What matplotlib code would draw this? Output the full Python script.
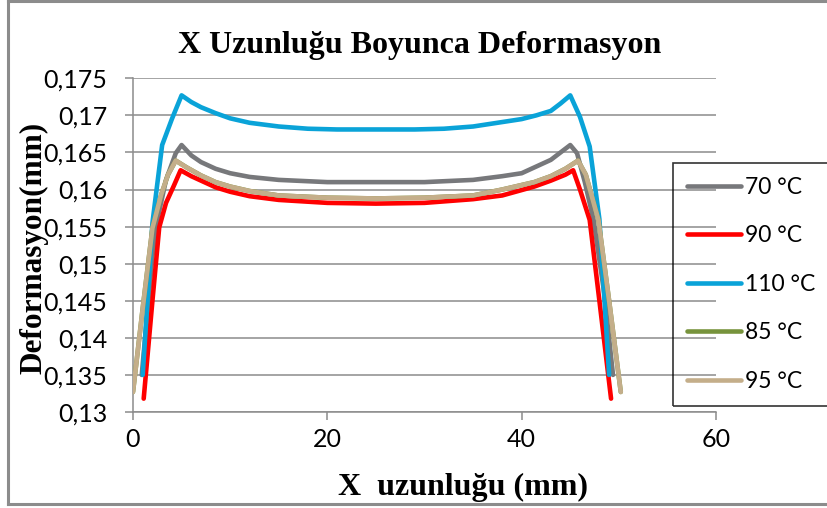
import matplotlib
matplotlib.use("Agg")
import matplotlib.pyplot as plt
from matplotlib.lines import Line2D
from matplotlib.ticker import FuncFormatter

# Deformation (mm) along the X length (mm) for each temperature
x_70 = [0.9, 2, 2.5, 3.4, 4.4, 5, 6, 7, 8.5, 10, 12, 15, 20, 25, 30, 35, 38, 40,
        41.5, 43, 44, 45, 45.7, 46.5, 47.4, 48.5, 49.4]
y_70 = [0.1350, 0.1510, 0.1559, 0.1613, 0.1649, 0.1660, 0.1646, 0.1637, 0.1628,
        0.1622, 0.1617, 0.1613, 0.1610, 0.1610, 0.1610, 0.1613, 0.1618, 0.1622,
        0.1631, 0.1640, 0.1650, 0.1660, 0.1649, 0.1610, 0.1559, 0.1460, 0.1350]

x_90 = [1.1, 2, 2.7, 3.4, 4.2, 4.9, 6, 7, 8.5, 10, 12, 15, 20, 25, 30, 35, 38,
        41.3, 43, 44.5, 45.3, 46, 47, 48, 49.2]
y_90 = [0.1318, 0.1450, 0.1549, 0.1582, 0.1605, 0.1626, 0.1618, 0.1612, 0.1603,
        0.1597, 0.1591, 0.1586, 0.1582, 0.1581, 0.1582, 0.1587, 0.1592, 0.1604,
        0.1612, 0.1620, 0.1626, 0.1600, 0.1559, 0.1450, 0.1318]

x_110 = [1, 2, 3, 4, 5, 6, 7, 8.5, 10, 12, 15, 18, 21, 25, 29, 32, 35, 38, 40,
         41.5, 43, 44, 45, 46, 47, 48, 49]
y_110 = [0.1350, 0.1555, 0.1660, 0.1695, 0.1727, 0.1718, 0.1711, 0.1703, 0.1696,
         0.1690, 0.1685, 0.1682, 0.1681, 0.1681, 0.1681, 0.1682, 0.1685, 0.1691,
         0.1695, 0.1700, 0.1706, 0.1716, 0.1727, 0.1698, 0.1658, 0.1560, 0.1350]

x_85 = [0, 1, 2, 2.9, 3.6, 4.4, 5.5, 7, 8.5, 10, 12, 15, 20, 25, 30, 35, 38,
        41.3, 43, 44.5, 45.8, 46.6, 47.9, 49, 50.2]
y_85 = [0.1327, 0.1440, 0.1548, 0.1593, 0.1620, 0.1639, 0.1630, 0.1619, 0.1610,
        0.1604, 0.1598, 0.1592, 0.1589, 0.1588, 0.1589, 0.1592, 0.1600, 0.1610,
        0.1618, 0.1628, 0.1639, 0.1620, 0.1559, 0.1450, 0.1327]

x_95 = [0, 1, 2, 2.9, 3.6, 4.4, 5.5, 7, 8.5, 10, 12, 15, 20, 25, 30, 35, 38,
        41.3, 43, 44.5, 45.8, 46.6, 47.9, 49, 50.2]
y_95 = [0.1327, 0.1440, 0.1548, 0.1593, 0.1620, 0.1639, 0.1630, 0.1619, 0.1610,
        0.1604, 0.1598, 0.1592, 0.1589, 0.1588, 0.1589, 0.1592, 0.1600, 0.1610,
        0.1618, 0.1628, 0.1639, 0.1620, 0.1559, 0.1450, 0.1327]

labels = ["70 °C", "90 °C", "110 °C", "85 °C", "95 °C"]
colors = ["#77787B", "#FF0000", "#0AA3D8", "#77933C", "#C4AE8A"]

x_ticks = [0, 20, 40, 60]
y_ticks = [0.13, 0.135, 0.14, 0.145, 0.15, 0.155, 0.16, 0.165, 0.17, 0.175]

plt.rcParams['font.family'] = ['Lato', 'DejaVu Sans']

fig = plt.figure(figsize=(8.28, 5.08), dpi=100)
ax = fig.add_axes([133 / 828, 1 - 412 / 508, (716 - 133) / 828, (412 - 78.3) / 508])

grid_c = "#8C8C8C"
series = [(x_70, y_70), (x_90, y_90), (x_110, y_110), (x_85, y_85), (x_95, y_95)]
for (xs, ys), lab, c in zip(series, labels, colors):
    ax.plot(xs, ys, color=c, lw=3.3, label=lab,
            solid_capstyle="round", solid_joinstyle="round", zorder=3)

ax.set_xlim(0, 60)
ax.set_ylim(0.13, 0.175)
ax.set_xticks(x_ticks)
ax.set_yticks(y_ticks)
ax.yaxis.set_major_formatter(FuncFormatter(lambda v, p: f"{v:g}".replace(".", ",")))
ax.grid(axis="y", color=grid_c, lw=1.1, zorder=1)
ax.set_axisbelow(True)
for s in ["top", "right"]:
    ax.spines[s].set_visible(False)
for s in ["left", "bottom"]:
    ax.spines[s].set_color(grid_c)
    ax.spines[s].set_linewidth(1.1)
ax.tick_params(direction="out", length=5.5, width=1.1, color=grid_c, labelsize=18)
ax.tick_params(axis="y", pad=13)
ax.tick_params(axis="x", pad=6)
ax.patch.set_alpha(0)

# titles in bold serif
serif = ["Liberation Serif", "DejaVu Serif"]
fig.text(420 / 828, 1 - 45 / 508, "X Uzunluğu Boyunca Deformasyon", ha="center",
         va="center", fontsize=23, fontweight="bold", family=serif)
fig.text(463 / 828, 1 - 487 / 508, "X  uzunluğu (mm)", ha="center",
         va="center", fontsize=23, fontweight="bold", family=serif)
fig.text(34 / 828, 1 - 248 / 508, "Deformasyon(mm)", ha="center",
         va="center", rotation=90, fontsize=22.5, fontweight="bold", family=serif)

leg = fig.legend(loc="upper left", bbox_to_anchor=(673 / 828, 1 - 163 / 508),
                 frameon=True, fancybox=False, edgecolor="black",
                 fontsize=16.5, handlelength=2.35, labelspacing=1.2,
                 borderaxespad=0, borderpad=0.6, handletextpad=0.2)
leg.get_frame().set_facecolor("none")
leg.get_frame().set_linewidth(1.2)

# chart area border
border = dict(color="#8C8C8C", lw=2.2, transform=fig.transFigure)
fig.add_artist(Line2D([8 / 828, 8 / 828], [1 - 1 / 508, 1 - 504 / 508], **border))
fig.add_artist(Line2D([8 / 828, 1.0], [1 - 1 / 508, 1 - 1 / 508], **border))
fig.add_artist(Line2D([8 / 828, 1.0], [1 - 504 / 508, 1 - 504 / 508], **border))

fig.savefig("out.png", dpi=100)
